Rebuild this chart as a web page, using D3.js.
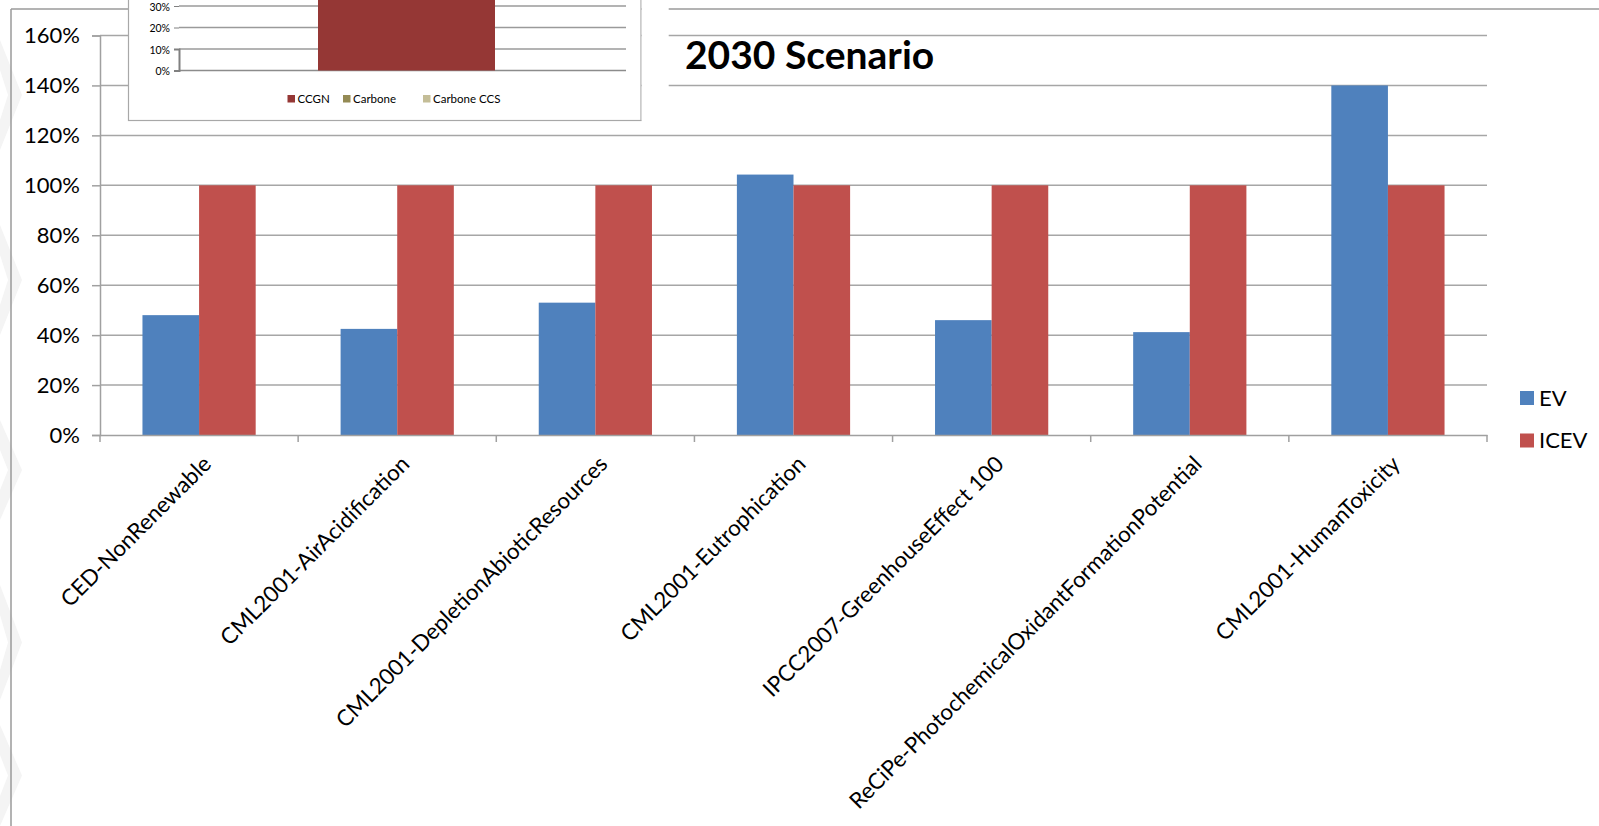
<!DOCTYPE html>
<html>
<head>
<meta charset="utf-8">
<script src="https://cdn.jsdelivr.net/npm/d3@7"></script>
<style>
  html, body { margin: 0; padding: 0; background: #ffffff; }
  svg { display: block; }
  text { font-family: Lato, "Open Sans", sans-serif; fill: #000; }
</style>
</head>
<body>
<svg id="chart" width="1599" height="826"></svg>
<script>
// ---- main chart data ----
const categories = [
  "CED-NonRenewable",
  "CML2001-AirAcidification",
  "CML2001-DepletionAbioticResources",
  "CML2001-Eutrophication",
  "IPCC2007-GreenhouseEffect 100",
  "ReCiPe-PhotochemicalOxidantFormationPotential",
  "CML2001-HumanToxicity"
];
const seriesNames = ["EV", "ICEV"];
const evValues   = [0.48, 0.425, 0.53, 1.043, 0.46, 0.412, 1.40];
const icevValues = [1.00, 1.00, 1.00, 1.00, 1.00, 1.00, 1.00];
const yTicks = [0, 0.2, 0.4, 0.6, 0.8, 1.0, 1.2, 1.4, 1.6];
const titleText = "2030 Scenario";

// ---- inset (pasted chart, partly cut off at the top of the picture) ----
const insetCategories = ["2030"];
const insetSeries = ["CCGN", "Carbone", "Carbone CCS"];
const insetCCGN = [1.0];
const insetCarbone = [0];
const insetCarboneCCS = [0];
const insetTicks = [0, 0.1, 0.2, 0.3];

const colors = { EV: "#4f81bd", ICEV: "#c0504d" };
const insetColors = { "CCGN": "#953735", "Carbone": "#948a54", "Carbone CCS": "#c4bd97" };

const svg = d3.select("#chart");

// faint background chevrons at left edge (slide background)
const bg = svg.append("g");
[[40, 150], [225, 335], [420, 520], [585, 700], [725, 826]].forEach(([a, b]) => {
  const m = (a + b) / 2;
  bg.append("path")
    .attr("d", `M0,${a} L22,${m} L0,${b} L0,${b - 30} L8,${m} L0,${a + 30} Z`)
    .attr("fill", "#f4f4f4");
});

// outer frame
svg.append("line").attr("x1", 11).attr("x2", 11).attr("y1", 9).attr("y2", 826)
  .attr("stroke", "#9a9a9a").attr("stroke-width", 1.5);
svg.append("line").attr("x1", 11).attr("x2", 1599).attr("y1", 9).attr("y2", 9)
  .attr("stroke", "#9a9a9a").attr("stroke-width", 1.5);

// scales
const plotL = 100, plotR = 1487, y0 = 435, yTop = 35.5;
const x = d3.scaleBand().domain(categories).range([plotL, plotR]).paddingInner(0).paddingOuter(0);
const step = x.bandwidth();
const groupW = step * 2 / 3.5;
const xs = d3.scaleBand().domain(seriesNames).range([(step - groupW) / 2, (step + groupW) / 2]);
const y = d3.scaleLinear().domain([0, 1.6]).range([y0, yTop]);

// gridlines
const grid = svg.append("g");
grid.selectAll("line").data(yTicks.filter(d => d > 0)).join("line")
  .attr("x1", plotL).attr("x2", plotR)
  .attr("y1", d => y(d)).attr("y2", d => y(d))
  .attr("stroke", "#a6a6a6").attr("stroke-width", 1.5);

// y axis
const yAxis = d3.axisLeft(y).tickValues(yTicks).tickFormat(d3.format(".0%")).tickSize(8).tickPadding(12);
const gy = svg.append("g").attr("transform", `translate(${plotL},0)`).call(yAxis);
gy.select(".domain").attr("stroke", "#a0a0a0").attr("stroke-width", 1.5);
gy.selectAll(".tick line").attr("stroke", "#a0a0a0").attr("stroke-width", 1.5);
gy.selectAll(".tick text").attr("font-size", 22).attr("font-family", "Lato").attr("fill", "#1a1a1a");

// bars
const rows = categories.map((c, i) => ({ cat: c, EV: evValues[i], ICEV: icevValues[i] }));
const groups = svg.append("g").selectAll("g").data(rows).join("g")
  .attr("transform", d => `translate(${x(d.cat)},0)`);
groups.selectAll("rect").data(d => seriesNames.map(s => ({ s, v: d[s] }))).join("rect")
  .attr("x", d => xs(d.s)).attr("width", xs.bandwidth())
  .attr("y", d => y(d.v)).attr("height", d => y0 - y(d.v))
  .attr("fill", d => colors[d.s]);

// x axis
const xAxis = d3.axisBottom(x).tickSize(0).tickFormat("");
const gx = svg.append("g").attr("transform", `translate(0,${y0})`).call(xAxis);
gx.select(".domain").attr("stroke", "#a0a0a0").attr("stroke-width", 1.5);
const bounds = categories.map(c => x(c)).concat([plotR]);
gx.selectAll(".bt").data(bounds).join("line").attr("class", "bt")
  .attr("x1", d => d).attr("x2", d => d).attr("y1", 0).attr("y2", 7)
  .attr("stroke", "#a0a0a0").attr("stroke-width", 1.5);

// category labels
svg.append("g").selectAll("text").data(categories).join("text")
  .attr("transform", d => `translate(${x(d) + step / 2 + 8},${y0 + 25}) rotate(-45)`)
  .attr("text-anchor", "end").attr("dy", "0.35em")
  .attr("font-size", 22.3).attr("fill", "#1a1a1a")
  .text(d => d);

// legend
const lg = svg.append("g").attr("transform", "translate(1520,391)");
seriesNames.forEach((s, i) => {
  lg.append("rect").attr("x", 0).attr("y", i * 42.5).attr("width", 14).attr("height", 14).attr("fill", colors[s]);
  lg.append("text").attr("x", 19).attr("y", i * 42.5 + 14.5).attr("font-size", 22).attr("fill", "#1a1a1a").text(s);
});

// ---- inset pasted chart ----
const inset = svg.append("g");
inset.append("rect").attr("x", 128.5).attr("y", -2).attr("width", 512.5).attr("height", 122.5)
  .attr("fill", "#fff").attr("stroke", "#a8a8a8").attr("stroke-width", 1.2);
// white gap to the right of the inset
svg.append("rect").attr("x", 641.7).attr("y", 0).attr("width", 27).attr("height", 120).attr("fill", "#fff");

const iyL = 179, iyR = 626, iy0 = 70.5;
const iy = d3.scaleLinear().domain([0, 0.1]).range([iy0, iy0 - 21.5]);
const ix = d3.scaleBand().domain(insetCategories).range([iyL + 8, iyR]).paddingInner(0).paddingOuter(0);
inset.selectAll(".ig").data(insetTicks).join("line").attr("class", "ig")
  .attr("x1", iyL).attr("x2", iyR).attr("y1", d => iy(d)).attr("y2", d => iy(d))
  .attr("stroke", d => d === 0 ? "#8c8c8c" : "#9a9a9a").attr("stroke-width", 1.3);
const iStack = d3.stack().keys(insetSeries)(insetCategories.map((c, i) => ({
  cat: c, "CCGN": insetCCGN[i], "Carbone": insetCarbone[i], "Carbone CCS": insetCarboneCCS[i]
})));
const ibarW = 177;
inset.selectAll(".ib").data(iStack).join("g").attr("class", "ib").attr("fill", d => insetColors[d.key])
  .selectAll("rect").data(d => d).join("rect")
  .attr("x", d => ix(d.data.cat) + (ix.bandwidth() - ibarW) / 2)
  .attr("width", ibarW)
  .attr("y", d => iy(d[1])).attr("height", d => iy(d[0]) - iy(d[1]));
const iAxis = d3.axisLeft(iy).tickValues(insetTicks).tickFormat(d3.format(".0%")).tickSize(5).tickPadding(4);
const giy = inset.append("g").attr("transform", `translate(${iyL},0)`).call(iAxis);
giy.select(".domain").attr("stroke", "#808080").attr("stroke-width", 2);
giy.selectAll(".tick line").attr("stroke", "#808080");
giy.selectAll(".tick text").attr("font-size", 10.5).attr("dy", "0.42em").attr("fill", "#1f3864");
// inset legend
const ilPos = [287.5, 343, 423];
insetSeries.forEach((s, i) => {
  inset.append("rect").attr("x", ilPos[i]).attr("y", 95).attr("width", 7.5).attr("height", 7.5).attr("fill", insetColors[s]);
  inset.append("text").attr("x", ilPos[i] + 10).attr("y", 103).attr("font-size", 11.5).attr("fill", "#333").text(s);
});

// title
svg.append("text").attr("x", 685).attr("y", 68.5).attr("font-size", 39).attr("font-weight", 700)
  .attr("fill", "#000").text(titleText);
</script>
</body>
</html>
